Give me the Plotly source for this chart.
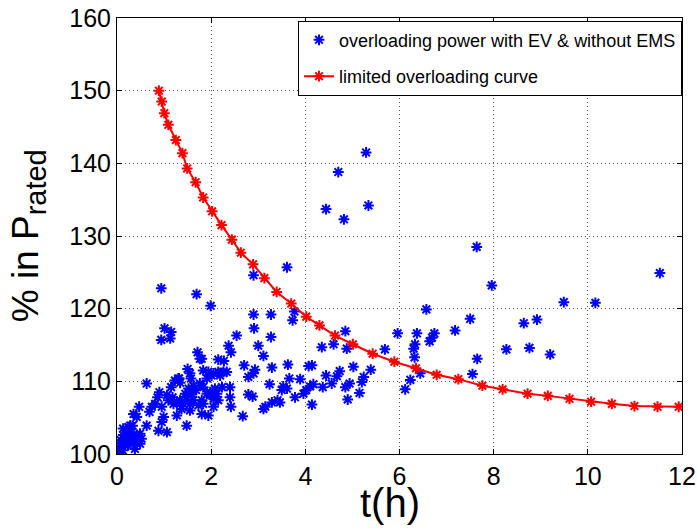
import plotly.graph_objects as go

# limited overloading curve (t in hours, % of rated power)
curve_t = [0.89, 0.95, 1.005, 1.09, 1.25, 1.39, 1.49, 1.67, 1.83, 2.02, 2.22, 2.44, 2.63,
           2.89, 3.13, 3.39, 3.70, 4.02, 4.30, 4.63, 5.01, 5.43, 5.89, 6.35, 6.79, 7.25,
           7.76, 8.19, 8.72, 9.15, 9.61, 10.07, 10.51, 10.99, 11.48, 11.93]
curve_p = [150.0, 148.5, 146.9, 145.3, 143.2, 141.4, 139.3, 137.4, 135.3, 133.4, 131.5, 129.5, 127.7,
           126.1, 124.2, 122.3, 120.7, 118.9, 117.7, 116.3, 115.1, 113.8, 112.7, 111.8, 110.9, 110.3,
           109.4, 108.9, 108.3, 108.0, 107.6, 107.2, 106.9, 106.6, 106.5, 106.5]

# overloading power with EV & without EMS (scatter)
ev_t = [5.29, 4.70, 4.44, 5.34, 4.82, 7.64, 7.96, 11.53, 9.49, 10.16,
        6.57, 7.50, 8.64, 8.92, 7.18, 8.27, 8.76, 9.20, 7.65, 7.55,
        5.96, 6.37, 6.74, 6.69, 6.64, 6.33, 6.30, 6.32, 6.44, 6.23, 6.12,
        5.69, 5.39, 5.24, 5.20, 5.15, 5.02, 4.85, 4.88, 4.60, 4.73, 4.67, 4.56,
        4.94, 4.85, 4.90, 4.35, 4.44, 4.37, 3.61, 2.90,
        1.99, 2.90, 3.27, 3.77, 3.73, 2.91, 2.54, 3.27, 3.00, 2.37, 2.42, 3.11, 2.15, 2.27,
        1.80, 2.70, 3.63, 3.29, 2.93, 2.90, 2.79, 4.07, 4.14, 1.83, 1.94, 2.05, 2.15, 2.26,
        2.33, 2.19, 2.01, 3.66, 3.89, 3.24, 3.53, 3.61, 3.50, 4.10, 4.17, 4.02, 3.96, 4.14,
        3.78, 2.79, 2.88, 2.40, 2.40, 2.42, 2.23, 2.08, 2.12, 2.05, 1.98, 2.15, 2.05, 1.91,
        1.83, 1.80, 1.94, 1.80, 2.67, 3.15, 3.29, 3.41, 3.46, 3.11,
        0.94, 1.69, 1.01, 1.15, 0.94, 1.13, 1.71, 1.76, 1.50, 1.32, 1.23, 1.57, 1.62, 1.52,
        1.45, 1.59, 1.68, 1.15, 0.90, 0.86, 0.81, 0.74, 1.06, 1.18, 1.27, 1.37, 1.34, 1.09,
        0.95, 0.99, 0.95, 0.88, 1.06, 1.48, 0.63, 0.63, 0.69, 0.47, 0.35, 0.42, 0.49, 0.33,
        0.24, 0.13, 0.28, 0.17, 0.35, 0.42, 0.08, 0.03, 0.12, 0.24, 0.06, 0.00,
        1.34, 0.28, 0.21, 0.31, 0.42, 0.52, 0.49, 0.38, 0.13, 0.10, 0.17, 0.06, 0.03, 0.00,
        0.24, 1.27, 1.20, 1.48, 1.62, 1.55, 1.41, 1.55, 1.73, 1.83, 1.76, 1.98, 1.55, 1.91, 1.30]
ev_p = [141.5, 138.8, 133.7, 134.2, 132.3, 128.5, 123.2, 124.9, 120.9, 120.8,
        119.9, 118.6, 118.0, 118.5, 117.0, 114.4, 114.6, 113.7, 113.1, 111.0,
        116.6, 116.6, 116.6, 116.0, 115.5, 115.1, 114.5, 113.3, 111.1, 110.2, 108.9,
        114.4, 111.6, 110.6, 109.9, 108.4, 112.0, 116.9, 114.5, 115.1, 111.4, 110.7, 109.7,
        109.7, 109.2, 107.5, 114.7, 110.8, 109.2, 125.7, 124.6,
        120.4, 119.2, 119.2, 119.6, 118.4, 117.3, 116.3, 116.1, 114.9, 114.9, 114.0, 113.5, 113.0, 112.8,
        113.1, 112.2, 112.3, 111.9, 111.6, 111.1, 110.6, 112.1, 112.2, 111.5, 111.3, 111.1, 111.3, 111.3,
        111.3, 110.8, 110.8, 110.4, 110.3, 109.6, 109.3, 109.0, 108.8, 109.3, 109.6, 108.8, 108.3, 106.8,
        107.8, 108.2, 107.9, 109.2, 107.8, 106.5, 109.2, 109.0, 108.3, 107.6, 108.1, 107.4, 106.5, 108.3,
        109.2, 107.4, 105.3, 105.5, 105.2, 106.5, 107.1, 107.4, 107.1, 106.2,
        122.8, 122.0, 117.3, 116.8, 115.7, 115.9, 114.0, 113.1, 111.7, 110.4, 110.1, 110.4, 109.4, 109.0,
        108.3, 108.3, 108.8, 109.2, 108.5, 107.8, 106.9, 106.5, 108.1, 107.8, 107.1, 106.2, 107.4, 107.4,
        106.5, 105.1, 104.4, 103.2, 103.0, 103.9, 109.7, 103.9, 105.8, 106.5, 105.5, 105.1, 102.8, 103.9,
        103.7, 103.5, 102.8, 102.3, 101.9, 101.4, 101.9, 100.9, 100.5, 101.2, 100.2, 100.0,
        109.8, 103.9, 103.2, 103.0, 102.6, 102.1, 101.4, 100.7, 102.6, 101.6, 101.2, 100.7, 100.1, 100.5,
        101.9, 105.3, 106.9, 107.8, 107.4, 106.0, 106.9, 106.9, 106.7, 106.9, 109.7, 108.5, 111.1, 110.4, 110.4]

x_ticks = [0, 2, 4, 6, 8, 10, 12]
y_ticks = [100, 110, 120, 130, 140, 150, 160]

FONT = "Liberation Sans, Arial, sans-serif"

fig = go.Figure()
fig.add_trace(go.Scatter(
    x=ev_t, y=ev_p, mode="markers", name="overloading power with EV & without EMS",
    legendgroup="a",
    marker=dict(symbol="asterisk-open", size=9, color="#0000ff",
                line=dict(color="#0000ff", width=2)),
))
fig.add_trace(go.Scatter(
    x=curve_t, y=curve_p, mode="lines+markers", name="limited overloading curve",
    legendgroup="b",
    line=dict(color="#ff0000", width=2),
    marker=dict(symbol="asterisk-open", size=9, color="#ff0000",
                line=dict(color="#ff0000", width=2)),
))

axis_common = dict(
    showline=True, linecolor="black", linewidth=1, mirror="ticks",
    ticks="inside", ticklen=5, tickcolor="black",
    showgrid=True, gridcolor="#555555", gridwidth=1, griddash="1px,3px",
    zeroline=False, automargin=False,
    tickfont=dict(family=FONT, size=25, color="black"),
)
fig.update_xaxes(range=[0, 12], tickvals=x_ticks, ticktext=[str(v) for v in x_ticks], **axis_common)
fig.update_yaxes(range=[100, 160], tickvals=y_ticks, ticktext=[str(v) for v in y_ticks], **axis_common)

fig.update_layout(
    width=697, height=528,
    margin=dict(l=117, r=15, t=18, b=74),
    paper_bgcolor="white", plot_bgcolor="white",
    font=dict(family=FONT, color="black"),
    showlegend=True,
    legend=dict(
        x=1, xanchor="right", y=0.994, yanchor="top",
        bgcolor="white", bordercolor="black", borderwidth=1,
        font=dict(family=FONT, size=18, color="black"),
        tracegroupgap=10, traceorder="grouped",
    ),
    annotations=[
        dict(text="t(h)", xref="paper", yref="paper", x=0.483, y=-0.112,
             xanchor="center", yanchor="middle", showarrow=False,
             font=dict(family=FONT, size=40, color="black")),
        dict(text="% in P<sub><span style=\"font-size:29px\">rated</span></sub>",
             xref="paper", yref="paper", x=-0.157, y=0.50,
             xanchor="center", yanchor="middle", textangle=-90, showarrow=False,
             font=dict(family=FONT, size=37, color="black")),
    ],
)

fig.write_html("out.html", config={"displayModeBar": False},
               post_script="document.body.style.margin='0';document.body.style.overflow='hidden';")
